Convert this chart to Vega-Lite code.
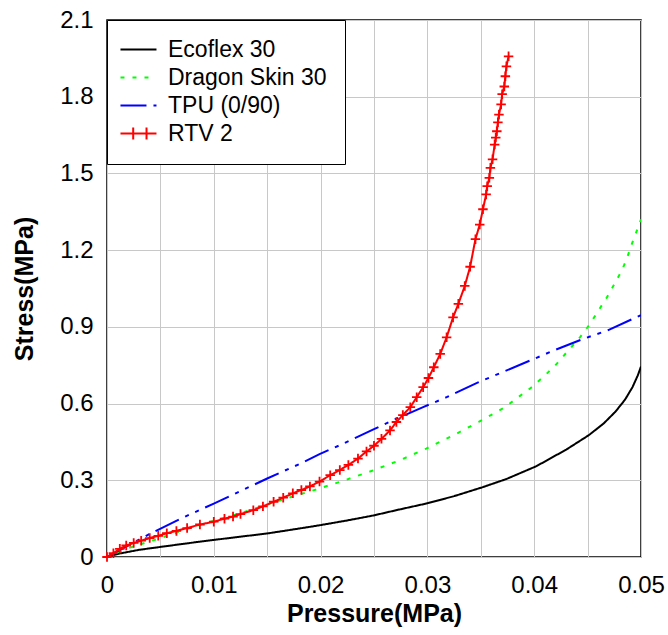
{
  "$schema": "https://vega.github.io/schema/vega-lite/v6.json",
  "width": 534,
  "height": 537,
  "autosize": {"type": "none"},
  "padding": {"left": 107, "top": 20, "right": 27, "bottom": 78},
  "background": "white",
  "config": {
    "view": {"stroke": "black", "strokeWidth": 1.5},
    "font": "Liberation Sans",
    "axis": {
      "grid": true,
      "gridColor": "#c8c8c8",
      "gridWidth": 1,
      "ticks": false,
      "domain": false,
      "labelFont": "Liberation Sans",
      "labelFontSize": 24,
      "labelColor": "black",
      "titleFont": "Liberation Sans",
      "titleFontSize": 25,
      "titleFontWeight": "bold",
      "titleColor": "black",
      "labelOverlap": false,
      "labelFlush": false
    },
    "legend": {
      "title": null,
      "orient": "top-left",
      "offset": 0,
      "padding": 18,
      "strokeColor": "black",
      "fillColor": "white",
      "labelFont": "Liberation Sans",
      "labelFontSize": 23,
      "labelColor": "black",
      "rowPadding": 4,
      "symbolStrokeWidth": 2,
      "symbolSize": 144,
      "labelOffset": 20
    }
  },
  "data": {
    "values": [
      {"series": "Ecoflex 30", "pressure": 0, "stress": 0},
      {"series": "Ecoflex 30", "pressure": 0.001, "stress": 0.012},
      {"series": "Ecoflex 30", "pressure": 0.003, "stress": 0.028},
      {"series": "Ecoflex 30", "pressure": 0.006, "stress": 0.045},
      {"series": "Ecoflex 30", "pressure": 0.0087, "stress": 0.06},
      {"series": "Ecoflex 30", "pressure": 0.012, "stress": 0.077},
      {"series": "Ecoflex 30", "pressure": 0.015, "stress": 0.092},
      {"series": "Ecoflex 30", "pressure": 0.0181, "stress": 0.112},
      {"series": "Ecoflex 30", "pressure": 0.0199, "stress": 0.124},
      {"series": "Ecoflex 30", "pressure": 0.0225, "stress": 0.143},
      {"series": "Ecoflex 30", "pressure": 0.0249, "stress": 0.162},
      {"series": "Ecoflex 30", "pressure": 0.0274, "stress": 0.186},
      {"series": "Ecoflex 30", "pressure": 0.03, "stress": 0.21},
      {"series": "Ecoflex 30", "pressure": 0.0325, "stress": 0.238},
      {"series": "Ecoflex 30", "pressure": 0.0351, "stress": 0.272},
      {"series": "Ecoflex 30", "pressure": 0.0374, "stress": 0.305},
      {"series": "Ecoflex 30", "pressure": 0.0402, "stress": 0.355},
      {"series": "Ecoflex 30", "pressure": 0.043, "stress": 0.42},
      {"series": "Ecoflex 30", "pressure": 0.0451, "stress": 0.476},
      {"series": "Ecoflex 30", "pressure": 0.0465, "stress": 0.522},
      {"series": "Ecoflex 30", "pressure": 0.0476, "stress": 0.568},
      {"series": "Ecoflex 30", "pressure": 0.0485, "stress": 0.615},
      {"series": "Ecoflex 30", "pressure": 0.0492, "stress": 0.664},
      {"series": "Ecoflex 30", "pressure": 0.0497, "stress": 0.71},
      {"series": "Ecoflex 30", "pressure": 0.05, "stress": 0.745},

      {"series": "Dragon Skin 30", "pressure": 0, "stress": 0},
      {"series": "Dragon Skin 30", "pressure": 0.002, "stress": 0.035},
      {"series": "Dragon Skin 30", "pressure": 0.005, "stress": 0.074},
      {"series": "Dragon Skin 30", "pressure": 0.0087, "stress": 0.126},
      {"series": "Dragon Skin 30", "pressure": 0.012, "stress": 0.165},
      {"series": "Dragon Skin 30", "pressure": 0.015, "stress": 0.205},
      {"series": "Dragon Skin 30", "pressure": 0.0175, "stress": 0.238},
      {"series": "Dragon Skin 30", "pressure": 0.0199, "stress": 0.268},
      {"series": "Dragon Skin 30", "pressure": 0.0224, "stress": 0.302},
      {"series": "Dragon Skin 30", "pressure": 0.025, "stress": 0.34},
      {"series": "Dragon Skin 30", "pressure": 0.0274, "stress": 0.378},
      {"series": "Dragon Skin 30", "pressure": 0.0299, "stress": 0.424},
      {"series": "Dragon Skin 30", "pressure": 0.0323, "stress": 0.473},
      {"series": "Dragon Skin 30", "pressure": 0.0348, "stress": 0.528},
      {"series": "Dragon Skin 30", "pressure": 0.036, "stress": 0.556},
      {"series": "Dragon Skin 30", "pressure": 0.0373, "stress": 0.587},
      {"series": "Dragon Skin 30", "pressure": 0.0385, "stress": 0.625},
      {"series": "Dragon Skin 30", "pressure": 0.0398, "stress": 0.665},
      {"series": "Dragon Skin 30", "pressure": 0.041, "stress": 0.71},
      {"series": "Dragon Skin 30", "pressure": 0.0421, "stress": 0.755},
      {"series": "Dragon Skin 30", "pressure": 0.0432, "stress": 0.808},
      {"series": "Dragon Skin 30", "pressure": 0.0443, "stress": 0.86},
      {"series": "Dragon Skin 30", "pressure": 0.0452, "stress": 0.91},
      {"series": "Dragon Skin 30", "pressure": 0.046, "stress": 0.963},
      {"series": "Dragon Skin 30", "pressure": 0.0468, "stress": 1.015},
      {"series": "Dragon Skin 30", "pressure": 0.0475, "stress": 1.067},
      {"series": "Dragon Skin 30", "pressure": 0.0482, "stress": 1.12},
      {"series": "Dragon Skin 30", "pressure": 0.0487, "stress": 1.17},
      {"series": "Dragon Skin 30", "pressure": 0.0491, "stress": 1.22},
      {"series": "Dragon Skin 30", "pressure": 0.0496, "stress": 1.275},
      {"series": "Dragon Skin 30", "pressure": 0.05, "stress": 1.32},

      {"series": "TPU (0/90)", "pressure": 0, "stress": 0},
      {"series": "TPU (0/90)", "pressure": 0.002, "stress": 0.045},
      {"series": "TPU (0/90)", "pressure": 0.004, "stress": 0.09},
      {"series": "TPU (0/90)", "pressure": 0.0068, "stress": 0.148},
      {"series": "TPU (0/90)", "pressure": 0.01, "stress": 0.209},
      {"series": "TPU (0/90)", "pressure": 0.0121, "stress": 0.25},
      {"series": "TPU (0/90)", "pressure": 0.015, "stress": 0.307},
      {"series": "TPU (0/90)", "pressure": 0.0181, "stress": 0.365},
      {"series": "TPU (0/90)", "pressure": 0.0199, "stress": 0.402},
      {"series": "TPU (0/90)", "pressure": 0.0221, "stress": 0.443},
      {"series": "TPU (0/90)", "pressure": 0.0249, "stress": 0.498},
      {"series": "TPU (0/90)", "pressure": 0.0271, "stress": 0.541},
      {"series": "TPU (0/90)", "pressure": 0.0296, "stress": 0.586},
      {"series": "TPU (0/90)", "pressure": 0.0318, "stress": 0.625},
      {"series": "TPU (0/90)", "pressure": 0.0331, "stress": 0.651},
      {"series": "TPU (0/90)", "pressure": 0.0348, "stress": 0.684},
      {"series": "TPU (0/90)", "pressure": 0.0368, "stress": 0.719},
      {"series": "TPU (0/90)", "pressure": 0.0396, "stress": 0.768},
      {"series": "TPU (0/90)", "pressure": 0.0418, "stress": 0.807},
      {"series": "TPU (0/90)", "pressure": 0.0446, "stress": 0.853},
      {"series": "TPU (0/90)", "pressure": 0.0468, "stress": 0.885},
      {"series": "TPU (0/90)", "pressure": 0.05, "stress": 0.946},

      {"series": "RTV 2", "pressure": 0, "stress": 0},
      {"series": "RTV 2", "pressure": 0.0006, "stress": 0.015},
      {"series": "RTV 2", "pressure": 0.0012, "stress": 0.032},
      {"series": "RTV 2", "pressure": 0.0018, "stress": 0.045},
      {"series": "RTV 2", "pressure": 0.0025, "stress": 0.055},
      {"series": "RTV 2", "pressure": 0.0032, "stress": 0.064},
      {"series": "RTV 2", "pressure": 0.004, "stress": 0.074},
      {"series": "RTV 2", "pressure": 0.0048, "stress": 0.083},
      {"series": "RTV 2", "pressure": 0.0056, "stress": 0.093},
      {"series": "RTV 2", "pressure": 0.0065, "stress": 0.102},
      {"series": "RTV 2", "pressure": 0.0075, "stress": 0.113},
      {"series": "RTV 2", "pressure": 0.0087, "stress": 0.127},
      {"series": "RTV 2", "pressure": 0.01, "stress": 0.138},
      {"series": "RTV 2", "pressure": 0.011, "stress": 0.15},
      {"series": "RTV 2", "pressure": 0.0118, "stress": 0.158},
      {"series": "RTV 2", "pressure": 0.0125, "stress": 0.168},
      {"series": "RTV 2", "pressure": 0.0137, "stress": 0.183},
      {"series": "RTV 2", "pressure": 0.0146, "stress": 0.198},
      {"series": "RTV 2", "pressure": 0.0156, "stress": 0.216},
      {"series": "RTV 2", "pressure": 0.0165, "stress": 0.232},
      {"series": "RTV 2", "pressure": 0.0174, "stress": 0.249},
      {"series": "RTV 2", "pressure": 0.0182, "stress": 0.262},
      {"series": "RTV 2", "pressure": 0.019, "stress": 0.276},
      {"series": "RTV 2", "pressure": 0.0199, "stress": 0.295},
      {"series": "RTV 2", "pressure": 0.0209, "stress": 0.32},
      {"series": "RTV 2", "pressure": 0.0218, "stress": 0.34},
      {"series": "RTV 2", "pressure": 0.0226, "stress": 0.36},
      {"series": "RTV 2", "pressure": 0.0235, "stress": 0.385},
      {"series": "RTV 2", "pressure": 0.0243, "stress": 0.413},
      {"series": "RTV 2", "pressure": 0.025, "stress": 0.435},
      {"series": "RTV 2", "pressure": 0.0257, "stress": 0.462},
      {"series": "RTV 2", "pressure": 0.0265, "stress": 0.495},
      {"series": "RTV 2", "pressure": 0.0271, "stress": 0.528},
      {"series": "RTV 2", "pressure": 0.0277, "stress": 0.555},
      {"series": "RTV 2", "pressure": 0.0284, "stress": 0.586},
      {"series": "RTV 2", "pressure": 0.029, "stress": 0.625},
      {"series": "RTV 2", "pressure": 0.0296, "stress": 0.664},
      {"series": "RTV 2", "pressure": 0.0301, "stress": 0.7},
      {"series": "RTV 2", "pressure": 0.0306, "stress": 0.742},
      {"series": "RTV 2", "pressure": 0.0312, "stress": 0.794},
      {"series": "RTV 2", "pressure": 0.0318, "stress": 0.859},
      {"series": "RTV 2", "pressure": 0.0324, "stress": 0.937},
      {"series": "RTV 2", "pressure": 0.0329, "stress": 0.99},
      {"series": "RTV 2", "pressure": 0.0335, "stress": 1.06},
      {"series": "RTV 2", "pressure": 0.034, "stress": 1.135},
      {"series": "RTV 2", "pressure": 0.0345, "stress": 1.243},
      {"series": "RTV 2", "pressure": 0.0349, "stress": 1.3},
      {"series": "RTV 2", "pressure": 0.0352, "stress": 1.36},
      {"series": "RTV 2", "pressure": 0.0355, "stress": 1.418},
      {"series": "RTV 2", "pressure": 0.0356, "stress": 1.45},
      {"series": "RTV 2", "pressure": 0.0358, "stress": 1.483},
      {"series": "RTV 2", "pressure": 0.0359, "stress": 1.522},
      {"series": "RTV 2", "pressure": 0.0361, "stress": 1.555},
      {"series": "RTV 2", "pressure": 0.0363, "stress": 1.613},
      {"series": "RTV 2", "pressure": 0.0364, "stress": 1.64},
      {"series": "RTV 2", "pressure": 0.0365, "stress": 1.665},
      {"series": "RTV 2", "pressure": 0.0366, "stress": 1.7},
      {"series": "RTV 2", "pressure": 0.0367, "stress": 1.73},
      {"series": "RTV 2", "pressure": 0.0369, "stress": 1.77},
      {"series": "RTV 2", "pressure": 0.037, "stress": 1.81},
      {"series": "RTV 2", "pressure": 0.0372, "stress": 1.84},
      {"series": "RTV 2", "pressure": 0.0373, "stress": 1.88},
      {"series": "RTV 2", "pressure": 0.0374, "stress": 1.919},
      {"series": "RTV 2", "pressure": 0.0376, "stress": 1.958}
    ]
  },
  "encoding": {
    "x": {
      "field": "pressure",
      "type": "quantitative",
      "scale": {"domain": [0, 0.05], "nice": false, "zero": false},
      "axis": {
        "values": [0, 0.005, 0.01, 0.015, 0.02, 0.025, 0.03, 0.035, 0.04, 0.045, 0.05],
        "labelExpr": "round(datum.value * 1000) % 10 == 0 ? format(datum.value, '~g') : ''",
        "labelPadding": 16,
        "title": "Pressure(MPa)",
        "titlePadding": 4
      }
    },
    "y": {
      "field": "stress",
      "type": "quantitative",
      "scale": {"domain": [0, 2.1], "nice": false, "zero": false},
      "axis": {
        "values": [0, 0.3, 0.6, 0.9, 1.2, 1.5, 1.8, 2.1],
        "format": ".1~f",
        "labelPadding": 14,
        "title": "Stress(MPa)",
        "titlePadding": 22
      }
    }
  },
  "layer": [
    {
      "transform": [{"filter": "datum.series != 'RTV 2'"}],
      "mark": {"type": "line", "strokeWidth": 2, "clip": true},
      "encoding": {
        "color": {
          "field": "series",
          "type": "nominal",
          "scale": {
            "domain": ["Ecoflex 30", "Dragon Skin 30", "TPU (0/90)", "RTV 2"],
            "range": ["#000000", "#00ff00", "#0000ff", "#ff0000"]
          },
          "legend": {
            "encode": {
              "symbols": {
                "update": {
                  "shape": {"signal": "datum.value == 'RTV 2' ? 'M-2.67,0H3.33M-0.55,-1V1M1.67,-1V1' : 'M-2.67,0H3.33'"}
                }
              }
            }
          }
        },
        "strokeDash": {
          "field": "series",
          "type": "nominal",
          "scale": {
            "domain": ["Ecoflex 30", "Dragon Skin 30", "TPU (0/90)", "RTV 2"],
            "range": [[1, 0], [4, 8], [26, 7, 4, 7, 4, 7], [1, 0]]
          },
          "legend": {
            "encode": {
              "symbols": {
                "update": {
                  "shape": {"signal": "datum.value == 'RTV 2' ? 'M-2.67,0H3.33M-0.55,-1V1M1.67,-1V1' : 'M-2.67,0H3.33'"}
                }
              }
            }
          }
        }
      }
    },
    {
      "transform": [{"filter": "datum.series == 'RTV 2'"}],
      "mark": {"type": "line", "strokeWidth": 2, "clip": true},
      "encoding": {
        "color": {"field": "series", "type": "nominal"},
        "strokeDash": {"field": "series", "type": "nominal"}
      }
    },
    {
      "transform": [{"filter": "datum.series == 'RTV 2'"}],
      "mark": {
        "type": "point",
        "shape": "M-1,0H1M0,-1V1",
        "size": 90,
        "filled": false,
        "stroke": "#ff0000",
        "strokeWidth": 1.8,
        "opacity": 1,
        "clip": false
      },
      "encoding": {}
    }
  ]
}
